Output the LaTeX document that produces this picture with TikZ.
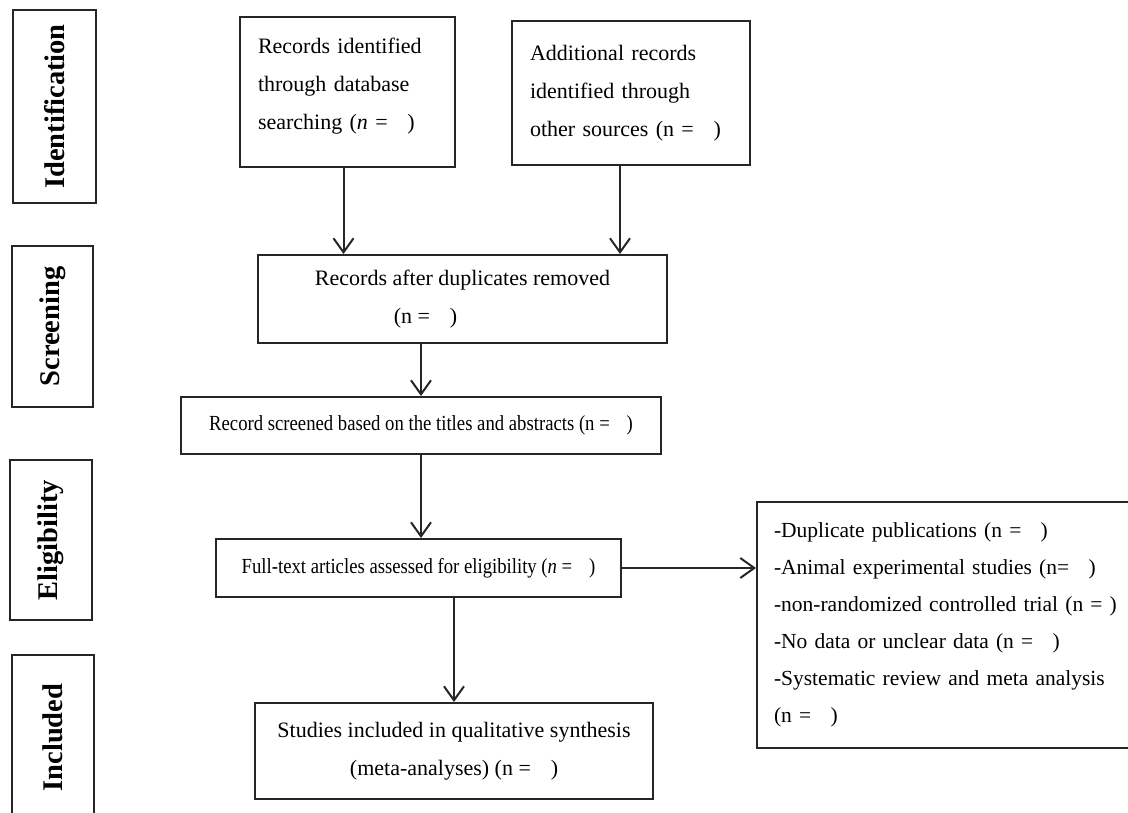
\documentclass[tikz,border=0pt]{standalone}
\usepackage{fontspec}
\usepackage{graphicx}
\setmainfont{Liberation Serif}
\usetikzlibrary{arrows.meta}
\newcommand{\ngap}{\hspace{0.9em}}
\newcommand{\sqz}[1]{\scalebox{0.87}[1]{#1}}
\tikzset{
  phase/.style={rectangle,draw,line width=2pt,inner sep=0pt,rotate=90,font=\fontsize{28.5}{30}\selectfont\bfseries},
  b/.style={rectangle,draw,line width=2pt,align=center,inner sep=0pt,font=\fontsize{22}{38}\selectfont},
}
\begin{document}
\begin{tikzpicture}[x=1pt,y=-1pt,draw=black!85,
  ar/.style={-{Straight Barb[length=14pt,width=20pt]},line width=2pt,black!85}]
  \useasboundingbox (0,0) rectangle (1128,812);
  % phases
  \node[phase,minimum width=193pt,minimum height=83pt] (lid) at (54.5,106.5) {Identification};
  \node[phase,minimum width=161pt,minimum height=81pt] (lscr) at (52.5,326.5) {Screening};
  \node[phase,minimum width=160pt,minimum height=82pt] (lel) at (51,540) {Eligibility};
  \node[phase,minimum width=165pt,minimum height=82pt] (lin) at (53,737.5) {Included};
  % flow
  \node[b,align=left,text width=179pt,inner xsep=18pt,minimum height=150pt] (db) at (347.5,92) {Records identified\\ through database\\ searching (\textit{n} =\ngap)\\[-21pt]\mbox{}};
  \node[b,align=left,text width=202pt,inner xsep=18pt,minimum height=144pt] (oth) at (631,93) {Additional records\\ identified through\\ other sources (n =\ngap)};
  \node[b,minimum width=409pt,minimum height=88pt] (dup) at (462.5,299) {Records after duplicates removed\\ \hspace*{-74pt}(n =\ngap)};
  \node[b,font=\fontsize{21.5}{38}\selectfont,minimum width=480pt,minimum height=57pt] (scr) at (421,425.5) {\sqz{Record screened based on the titles and abstracts (n =\ngap)}};
  \node[b,font=\fontsize{21.5}{38}\selectfont,minimum width=405pt,minimum height=58pt] (full) at (418.5,568) {\sqz{Full-text articles assessed for eligibility (\textit{n} =\ngap)}};
  \node[b,anchor=west,align=left,text width=362pt,inner xsep=17pt,minimum height=246pt,font=\fontsize{21.5}{37}\selectfont] (excl) at (756,625) {-Duplicate publications (n =\ngap)\\ -Animal experimental studies (n=\ngap)\\ -non-randomized controlled trial (n = )\\ -No data or unclear data (n =\ngap)\\ \makebox[342pt][s]{-Systematic review and meta analysis}\\ (n =\ngap)};
  \node[b,minimum width=398pt,minimum height=96pt] (inc) at (454,751) {Studies included in qualitative synthesis\\ (meta-analyses) (n =\ngap)};
  \draw[ar] ([xshift=-4pt]db.south) -- ([xshift=-4pt]db.south |- dup.north);
  \draw[ar] ([xshift=-11pt]oth.south) -- ([xshift=-11pt]oth.south |- dup.north);
  \draw[ar] (dup.south -| scr.north) -- (scr.north);
  \draw[ar] (scr.south) -- (scr.south |- full.north);
  \draw[ar] (full.east) -- (full.east -| excl.west);
  \draw[ar] (full.south -| inc.north) -- (inc.north);
\end{tikzpicture}
\end{document}
